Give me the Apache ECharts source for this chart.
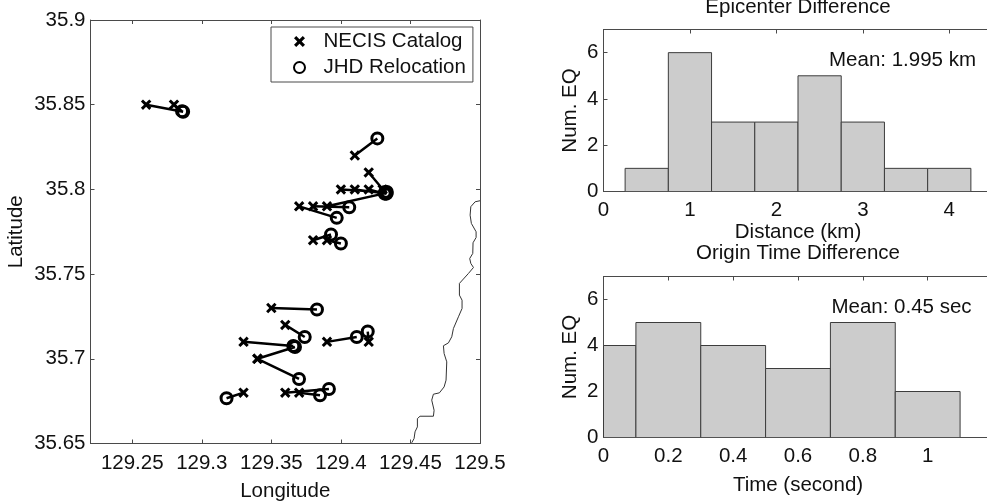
<!DOCTYPE html>
<html><head><meta charset="utf-8">
<style>html,body{margin:0;padding:0;background:#fff}#c{width:987px;height:501px}</style>
<script src="https://cdn.jsdelivr.net/npm/echarts@6/dist/echarts.min.js"></script>
</head><body><div id="c"></div>
<script>
// NECIS catalog epicentres [lon, lat]
const necis = [[129.26,35.85],[129.28,35.85],[129.41,35.82],[129.42,35.81],[129.40,35.80],[129.41,35.80],[129.42,35.80],[129.43,35.80],[129.39,35.79],[129.38,35.79],[129.37,35.79],[129.38,35.77],[129.39,35.77],[129.35,35.73],[129.36,35.72],[129.33,35.71],[129.34,35.70],[129.34,35.70],[129.39,35.71],[129.42,35.71],[129.33,35.68],[129.36,35.68],[129.37,35.68]];
// JHD relocated epicentres [lon, lat], same order
const jhd = [[129.2866,35.8458],[129.2858,35.8462],[129.4262,35.8301],[129.4322,35.798],[129.4318,35.7985],[129.4328,35.7975],[129.4315,35.7975],[129.433,35.7985],[129.4322,35.7978],[129.406,35.7894],[129.397,35.7832],[129.3929,35.7734],[129.4,35.7681],[129.3828,35.7291],[129.374,35.7129],[129.3658,35.7076],[129.367,35.707],[129.3699,35.6881],[129.4114,35.7129],[129.4193,35.7161],[129.3178,35.6767],[129.3914,35.6822],[129.385,35.6785]];
const coast = [[129.5,35.7933],[129.4965,35.7927],[129.4934,35.7898],[129.4929,35.7848],[129.4938,35.7799],[129.4972,35.775],[129.4972,35.7716],[129.495,35.7685],[129.4948,35.7622],[129.4926,35.7592],[129.4934,35.7563],[129.4953,35.7539],[129.4917,35.7504],[129.4852,35.7445],[129.4852,35.7376],[129.4871,35.7346],[129.4871,35.7297],[129.4845,35.7248],[129.4809,35.7179],[129.4797,35.713],[129.4773,35.7094],[129.4737,35.7077],[129.4742,35.7031],[129.4761,35.6982],[129.4756,35.6874],[129.4742,35.6834],[129.4708,35.6799],[129.4665,35.6791],[129.4653,35.6756],[129.467,35.6696],[129.4665,35.6661],[129.4569,35.6661],[129.455,35.6647],[129.455,35.6598],[129.4533,35.6569],[129.4526,35.6529],[129.4509,35.6504]];
const lonTicks = [129.25,129.3,129.35,129.4,129.45,129.5];
const latTicks = [35.65,35.7,35.75,35.8,35.85,35.9];
const distCenters = [0.5,1,1.5,2,2.5,3,3.5,4];
const distCounts = [1,6,3,3,5,3,1,1];
const distBin = 0.5;
const timeCenters = [0,0.2,0.4,0.6,0.8,1];
const timeCounts = [4,5,4,3,5,2];
const timeBin = 0.2;
const distTicks = [0,1,2,3,4];
const timeTicks = [0,0.2,0.4,0.6,0.8,1];
const countTicks = [0,2,4,6];

const FONT = '"Liberation Sans", Arial, sans-serif', INK = '#111', AX = '#4a4a4a', FS = 20.5;
const xMark = 'path://M0 2 L2 0 L5 3 L8 0 L10 2 L7 5 L10 8 L8 10 L5 7 L2 10 L0 8 L3 5 Z';

function axis(gridIndex, position, min, max, ticks, opts) {
  opts = opts || {};
  const main = position === 'bottom' || position === 'left';
  return {
    type:'value', gridIndex, position, min, max, scale:true,
    splitLine:{show:false},
    axisLine:{show:true, onZero:false, lineStyle:{color:AX,width:1}},
    axisTick:{show:true, inside:true, length:4, customValues:ticks, lineStyle:{color:AX,width:1}},
    axisLabel:{show:main, customValues:ticks, margin:opts.margin, fontFamily:FONT, fontSize:FS, color:INK,
               hideOverlap:false, showMinLabel:true, showMaxLabel:true, formatter:v=>String(v)},
    name:opts.name, nameLocation:'center', nameGap:opts.gap,
    nameTextStyle:{fontFamily:FONT, fontSize:FS, color:INK}
  };
}
function hist(i, centers, counts, w) {
  return {
    type:'custom', xAxisIndex:i, yAxisIndex:i, clip:true, silent:true, z:1,
    data:centers.map((c,k)=>[c,counts[k]]),
    encode:{x:0,y:1},
    renderItem(p, api){
      const c = api.value(0), v = api.value(1);
      const a = api.coord([c-w/2, v]), b = api.coord([c+w/2, 0]);
      const r = echarts.graphic.clipRectByRect(
        {x:a[0], y:a[1], width:b[0]-a[0], height:b[1]-a[1]},
        {x:p.coordSys.x, y:p.coordSys.y, width:p.coordSys.width, height:p.coordSys.height});
      return {type:'rect', shape:r, style:{fill:'#cccccc', stroke:'#3c3c3c', lineWidth:1}};
    }
  };
}
const links = [];
necis.forEach((n,i)=>{ links.push(n, jhd[i], ['-','-']); });

const chart = echarts.init(document.getElementById('c'));
chart.setOption({
  animation:false, backgroundColor:'#fff',
  textStyle:{fontFamily:FONT},
  grid:[
    {left:90.5, top:20, width:389.5, height:423.5, outerBoundsMode:'none'},
    {left:603.5, top:29.5, width:389, height:162, outerBoundsMode:'none'},
    {left:603.5, top:276.5, width:389, height:161, outerBoundsMode:'none'}
  ],
  xAxis:[
    axis(0,'bottom',129.22,129.5,lonTicks,{name:'Longitude',gap:37,margin:9}),
    axis(1,'bottom',0,4.5,distTicks,{name:'Distance (km)',gap:28,margin:8}),
    axis(2,'bottom',0,1.2,timeTicks,{name:'Time (second)',gap:37,margin:8}),
    axis(0,'top',129.22,129.5,lonTicks),
    axis(1,'top',0,4.5,distTicks),
    axis(2,'top',0,1.2,timeTicks)
  ],
  yAxis:[
    axis(0,'left',35.65,35.9,latTicks,{name:'Latitude',gap:64,margin:5}),
    axis(1,'left',0,7,countTicks,{name:'Num. EQ',gap:23,margin:5}),
    axis(2,'left',0,7,countTicks,{name:'Num. EQ',gap:23,margin:5}),
    axis(0,'right',35.65,35.9,latTicks)
  ],
  title:[
    {text:'Epicenter Difference', left:798, top:-3, textAlign:'center', padding:0, textStyle:{fontFamily:FONT,fontSize:FS,fontWeight:'normal',color:INK}},
    {text:'Origin Time Difference', left:798, top:243, textAlign:'center', padding:0, textStyle:{fontFamily:FONT,fontSize:FS,fontWeight:'normal',color:INK}},
    {text:'Mean: 1.995 km', left:902.5, top:50, textAlign:'center', padding:0, textStyle:{fontFamily:FONT,fontSize:FS,fontWeight:'normal',color:INK}},
    {text:'Mean: 0.45 sec', left:901.5, top:297, textAlign:'center', padding:0, textStyle:{fontFamily:FONT,fontSize:FS,fontWeight:'normal',color:INK}}
  ],
  legend:{
    orient:'vertical', left:271, top:27, padding:[4,7,4,22], itemWidth:38, itemHeight:11, itemGap:5,
    backgroundColor:'#fff', borderColor:AX, borderWidth:1, borderRadius:0, selectedMode:false,
    textStyle:{fontFamily:FONT,fontSize:FS,color:INK},
    data:['NECIS Catalog','JHD Relocation']
  },
  series:[
    {type:'line', xAxisIndex:0, yAxisIndex:0, data:coast, showSymbol:false, symbol:'none', lineStyle:{color:'#333',width:1}, silent:true, z:1},
    {type:'line', xAxisIndex:0, yAxisIndex:0, data:links, connectNulls:false, showSymbol:false, symbol:'none', lineStyle:{color:'#000',width:2.5}, silent:true, z:2},
    {type:'scatter', name:'NECIS Catalog', xAxisIndex:0, yAxisIndex:0, data:necis, symbol:xMark, symbolSize:10.5, itemStyle:{color:'#000',opacity:1}, z:3},
    {type:'scatter', name:'JHD Relocation', xAxisIndex:0, yAxisIndex:0, data:jhd, symbol:'circle', symbolSize:11, itemStyle:{color:'rgba(255,255,255,0)',borderColor:'#000',borderWidth:3,opacity:1}, z:3},
    hist(1,distCenters,distCounts,distBin),
    hist(2,timeCenters,timeCounts,timeBin)
  ]
});
</script></body></html>
